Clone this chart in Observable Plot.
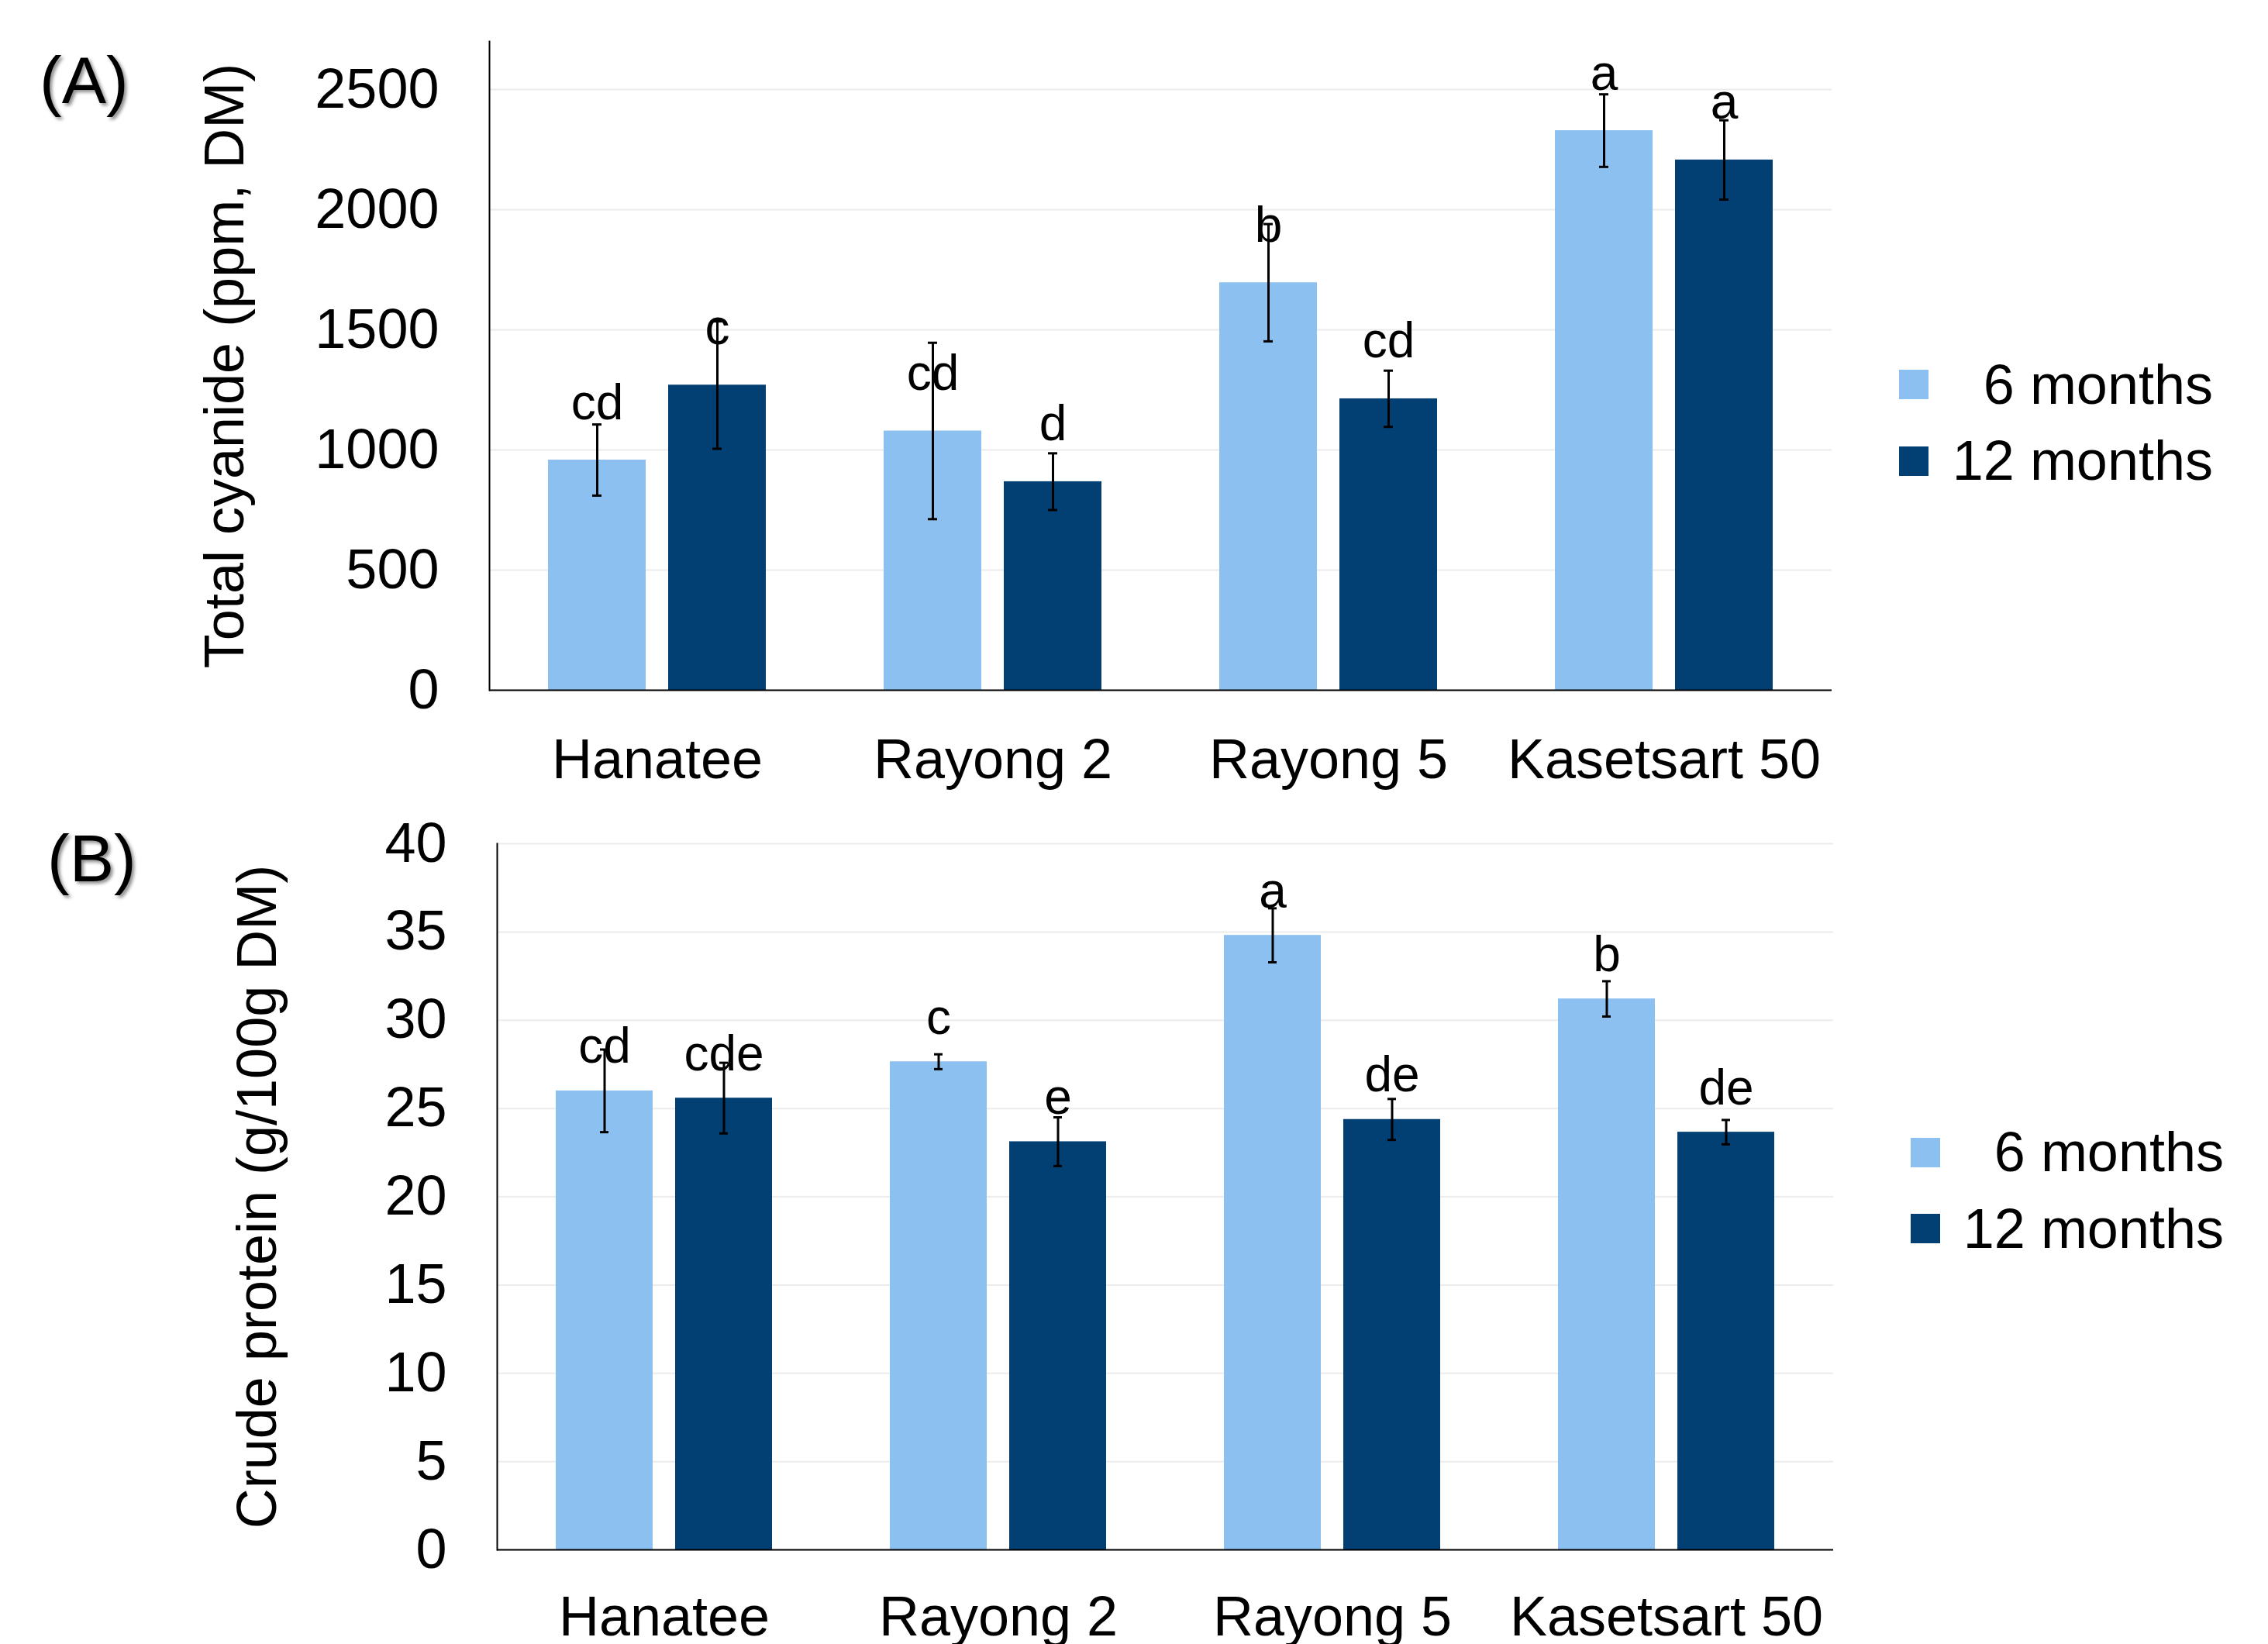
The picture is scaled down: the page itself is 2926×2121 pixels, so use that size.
<!DOCTYPE html>
<html>
<head>
<meta charset="utf-8">
<script src="https://cdn.jsdelivr.net/npm/d3@7"></script>
<script src="https://cdn.jsdelivr.net/npm/@observablehq/plot@0.6"></script>
<style>
  html, body { margin: 0; padding: 0; background: #fff; overflow: hidden; }
  #page { position: relative; width: 2926px; height: 2121px; font-family: "Liberation Sans", Arial, sans-serif; color: #000; }
  #page svg { display: block; }
  .panel-label { position: absolute; font-size: 86px; line-height: 86px; text-shadow: 3px 3px 4px rgba(0,0,0,0.45); white-space: nowrap; }
  .lg-sw { position: absolute; width: 38px; height: 38px; }
  .lg-tx { position: absolute; font-size: 72px; line-height: 72px; text-align: right; white-space: nowrap; }
</style>
</head>
<body>
<div id="page"></div>
<script>
// ---------- data ----------
const cultivars = ["Hanatee", "Rayong 2", "Rayong 5", "Kasetsart 50"];
const ages = ["6 months", "12 months"];
const colors = ["#8cc0f0", "#023f73"];

// (A) Total cyanide (ppm, DM)
const cyanide6 = [958, 1079, 1696, 2329];
const cyanide6Err = [148, 367, 244, 151];
const cyanide6Letters = ["cd", "cd", "b", "a"];
const cyanide12 = [1270, 868, 1213, 2207];
const cyanide12Err = [265, 118, 117, 165];
const cyanide12Letters = ["c", "d", "cd", "a"];
const cyanideTicks = [0, 500, 1000, 1500, 2000, 2500];

// (B) Crude protein (g/100g DM)
const protein6 = [26.0, 27.65, 34.81, 31.21];
const protein6Err = [2.34, 0.42, 1.53, 1.0];
const protein6Letters = ["cd", "c", "a", "b"];
const protein12 = [25.59, 23.12, 24.38, 23.66];
const protein12Err = [2.0, 1.38, 1.16, 0.69];
const protein12Letters = ["cde", "e", "de", "de"];
const proteinTicks = [0, 5, 10, 15, 20, 25, 30, 35, 40];

function rowsFrom(v6, e6, l6, v12, e12, l12) {
  return cultivars.flatMap((c, i) => [
    {cultivar: c, age: ages[0], value: v6[i], err: e6[i], letter: l6[i]},
    {cultivar: c, age: ages[1], value: v12[i], err: e12[i], letter: l12[i]}
  ]);
}

const font = "'Liberation Sans', Arial, sans-serif";

function panel({rows, ticks, yMax, label, height, mt, mb, ml, mr, labelOffset, fxPad, letterDy}) {
  return Plot.plot({
    width: 2926,
    height,
    marginTop: mt,
    marginBottom: mb,
    marginLeft: ml,
    marginRight: mr,
    style: {fontFamily: font, fontSize: "72px", color: "#000", background: "#fff"},
    fx: {domain: cultivars, padding: 0, axis: null},
    x: {domain: ages, paddingInner: 0.187, paddingOuter: 0.49, axis: null},
    y: {domain: [0, yMax], axis: null},
    color: {domain: ages, range: colors},
    marks: [
      Plot.gridY(ticks, {stroke: "#ececec", strokeOpacity: 1, strokeWidth: 2}),
      Plot.barY(rows, {fx: "cultivar", x: "age", y: "value", fill: "age"}),
      Plot.text(rows, {fx: "cultivar", x: "age", y: "value", text: "letter", lineAnchor: "bottom", dy: letterDy, fontSize: 64, fill: "#000"}),
      Plot.ruleX(rows, {fx: "cultivar", x: "age", y1: d => d.value - d.err, y2: d => d.value + d.err, stroke: "#000", strokeWidth: 3}),
      Plot.tickY(rows, {fx: "cultivar", x: "age", y: d => d.value - d.err, stroke: "#000", strokeWidth: 3, insetLeft: 57, insetRight: 57}),
      Plot.tickY(rows, {fx: "cultivar", x: "age", y: d => d.value + d.err, stroke: "#000", strokeWidth: 3, insetLeft: 57, insetRight: 57}),
      Plot.ruleY([0], {stroke: "#000", strokeWidth: 2}),
      Plot.frame({anchor: "left", facetAnchor: "left", stroke: "#000", strokeWidth: 2}),
      Plot.axisY(ticks, {anchor: "left", tickSize: 0, tickPadding: 65, fontSize: 72, tickFormat: d => String(d),
        label, labelArrow: "none", labelAnchor: "center", labelOffset}),
      Plot.axisFx({anchor: "bottom", tickSize: 0, tickPadding: fxPad, fontSize: 72, label: null})
    ]
  });
}

const page = document.getElementById("page");

const chartA = panel({
  rows: rowsFrom(cyanide6, cyanide6Err, cyanide6Letters, cyanide12, cyanide12Err, cyanide12Letters),
  ticks: cyanideTicks, yMax: 2700, label: "Total cyanide (ppm, DM)",
  height: 1050, mt: 53, mb: 160, ml: 630, mr: 563, labelOffset: 369, fxPad: 62, letterDy: -53
});
const chartB = panel({
  rows: rowsFrom(protein6, protein6Err, protein6Letters, protein12, protein12Err, protein12Letters),
  ticks: proteinTicks, yMax: 40, label: "Crude protein (g/100g DM)",
  height: 1071, mt: 38, mb: 122, ml: 639, mr: 560, labelOffset: 337, fxPad: 59, letterDy: -36
});
page.appendChild(chartA);
page.appendChild(chartB);

// panel labels
function addLabel(text, left, top) {
  const d = document.createElement("div");
  d.className = "panel-label";
  d.textContent = text;
  d.style.left = left + "px";
  d.style.top = top + "px";
  page.appendChild(d);
}
addLabel("(A)", 51, 60);
addLabel("(B)", 61, 1064);

// legends
function addLegend(swLeft, swTops, txRight, txTops) {
  ages.forEach((a, i) => {
    const s = document.createElement("div");
    s.className = "lg-sw";
    s.style.left = swLeft + "px";
    s.style.top = swTops[i] + "px";
    s.style.background = colors[i];
    page.appendChild(s);
    const t = document.createElement("div");
    t.className = "lg-tx";
    t.textContent = a;
    t.style.right = txRight + "px";
    t.style.top = txTops[i] + "px";
    page.appendChild(t);
  });
}
addLegend(2450, [477, 576], 71, [460, 558]);
addLegend(2465, [1468, 1566], 57, [1450, 1549]);
</script>
</body>
</html>
